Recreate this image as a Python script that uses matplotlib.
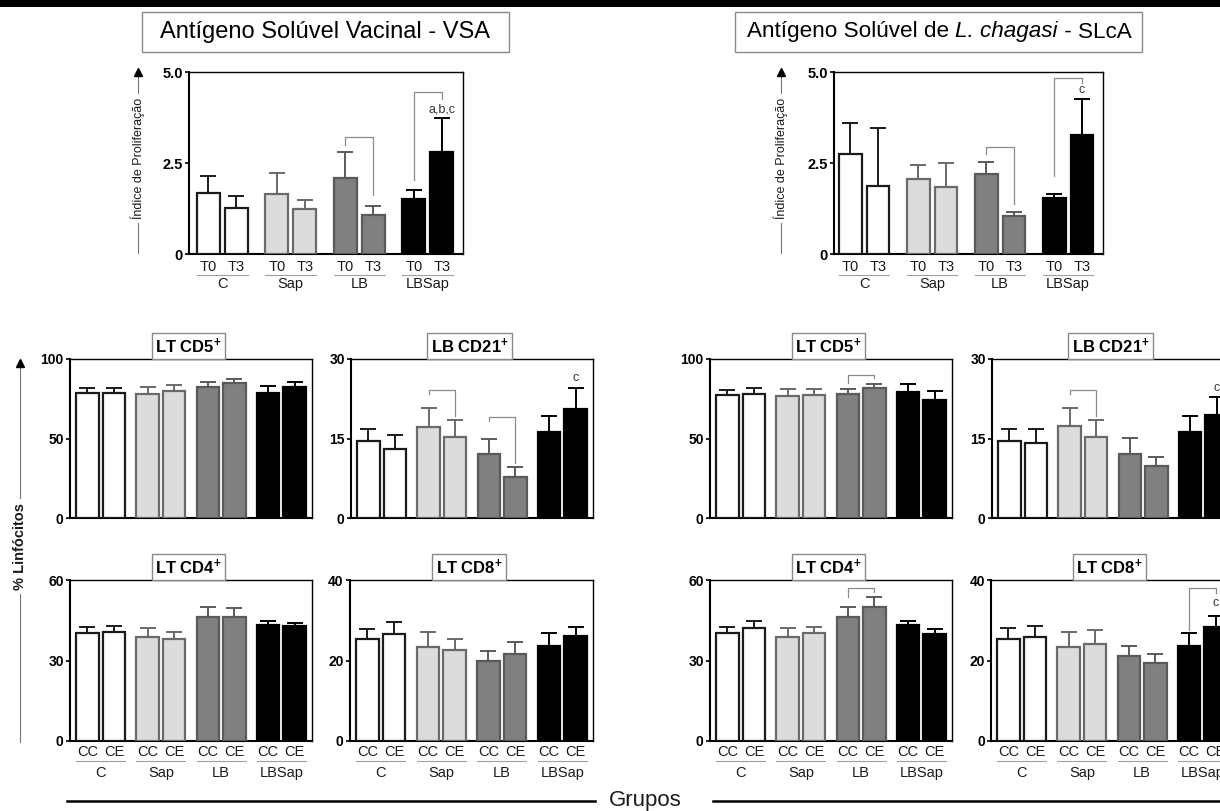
import matplotlib
matplotlib.use('Agg')
import matplotlib.pyplot as plt
from matplotlib.patches import Rectangle
from matplotlib.lines import Line2D
from matplotlib.transforms import blended_transform_factory

plt.rcParams['font.family'] = ['Liberation Sans', 'DejaVu Sans']
plt.rcParams['mathtext.fontset'] = 'custom'
plt.rcParams['mathtext.rm'] = 'Liberation Sans'
plt.rcParams['mathtext.it'] = 'Liberation Sans:italic'
plt.rcParams['mathtext.bf'] = 'Liberation Sans:bold'

groups = ['C', 'Sap', 'LB', 'LBSap']
time_labels = ['T0', 'T3']
culture_labels = ['CC', 'CE']

# proliferation index, order: C T0, C T3, Sap T0, Sap T3, LB T0, LB T3, LBSap T0, LBSap T3
vsa_mean = [1.68, 1.27, 1.64, 1.25, 2.09, 1.07, 1.50, 2.80]
vsa_err = [0.47, 0.33, 0.58, 0.22, 0.72, 0.26, 0.27, 0.94]
slca_mean = [2.74, 1.88, 2.05, 1.85, 2.21, 1.05, 1.53, 3.26]
slca_err = [0.85, 1.57, 0.40, 0.64, 0.33, 0.10, 0.13, 1.01]

# % lymphocytes, order: C CC, C CE, Sap CC, Sap CE, LB CC, LB CE, LBSap CC, LBSap CE
vsa_cd5_mean = [78.9, 78.9, 77.9, 79.6, 82.1, 84.6, 78.9, 82.5]
vsa_cd5_err = [3.0, 3.0, 4.6, 3.8, 3.6, 3.0, 4.0, 2.8]
vsa_cd21_mean = [14.6, 13.1, 17.2, 15.2, 12.0, 7.7, 16.3, 20.5]
vsa_cd21_err = [2.2, 2.5, 3.6, 3.2, 3.0, 1.9, 2.9, 4.1]
vsa_cd4_mean = [40.4, 40.6, 38.9, 38.0, 46.3, 46.1, 43.2, 43.0]
vsa_cd4_err = [2.0, 2.4, 3.1, 2.7, 3.6, 3.5, 1.5, 1.1]
vsa_cd8_mean = [25.3, 26.7, 23.4, 22.5, 19.9, 21.7, 23.7, 26.1]
vsa_cd8_err = [2.6, 2.8, 3.7, 2.9, 2.4, 2.9, 3.1, 2.2]

slca_cd5_mean = [77.5, 78.0, 76.9, 77.3, 78.2, 81.7, 79.4, 74.4]
slca_cd5_err = [3.2, 3.7, 4.2, 3.8, 3.1, 2.5, 4.8, 5.6]
slca_cd21_mean = [14.6, 14.1, 17.3, 15.2, 12.0, 9.8, 16.3, 19.4]
slca_cd21_err = [2.2, 2.6, 3.5, 3.2, 3.1, 1.8, 2.9, 3.4]
slca_cd4_mean = [40.4, 42.1, 38.6, 40.1, 46.3, 50.1, 43.2, 39.8]
slca_cd4_err = [2.0, 2.5, 3.4, 2.5, 3.6, 3.6, 1.5, 2.1]
slca_cd8_mean = [25.3, 25.8, 23.4, 24.1, 21.2, 19.5, 23.7, 28.4]
slca_cd8_err = [2.7, 2.7, 3.7, 3.6, 2.3, 2.1, 3.1, 2.6]

# brackets: (group, y of top line, y end left, y end right)
vsa_brackets = [(2, 3.22, 2.99, 1.62), (3, 4.45, 2.03, 4.27)]
slca_brackets = [(2, 2.94, 2.74, 1.37), (3, 4.84, 2.14, 4.70)]
vsa_cd21_brackets = [(1, 24.2, 23.4, 19.3), (2, 19.0, 18.3, 10.4)]
slca_cd5_brackets = [(2, 90.0, 84.8, 87.9)]
slca_cd21_brackets = [(1, 24.2, 23.4, 19.3)]
slca_cd4_brackets = [(2, 56.9, 53.8, 55.7)]
slca_cd8_brackets = [(3, 38.1, 27.6, 36.7)]

# significance letters: (bar index, y, text)
vsa_notes = [(7, 3.97, 'a,b,c')]
slca_notes = [(7, 4.50, 'c')]
vsa_cd21_notes = [(7, 26.4, 'c')]
slca_cd21_notes = [(7, 24.5, 'c')]
slca_cd8_notes = [(7, 34.2, 'c')]

fills = ['white', '#dcdcdc', '#808080', 'black']
edges = ['#1a1a1a', '#6a6a6a', '#5a5a5a', 'black']

W, H = 1220, 811
fig = plt.figure(figsize=(12.2, 8.11), dpi=100)


def fy(y):
    return 1 - y / H


def axes_px(x0, y0, x1, y1):
    return fig.add_axes([x0 / W, 1 - y1 / H, (x1 - x0) / W, (y1 - y0) / H])


def bar_panel(ax, mean, err, ymax, ticks, ticklabels, gstep, bstep, pad, tfs,
              brackets=(), notes=()):
    xs = []
    for i, (m, e) in enumerate(zip(mean, err)):
        g, j = divmod(i, 2)
        x = g * gstep + j * bstep + 0.5
        xs.append(x)
        ax.bar(x, m, width=1.0, color=fills[g], edgecolor=edges[g],
               linewidth=1.6, zorder=3)
        ax.errorbar(x, m, yerr=[[0], [e]], fmt='none', ecolor=edges[g],
                    elinewidth=1.4, capsize=5.5, capthick=1.4, zorder=2)
    for g, yt, yl, yr in brackets:
        xl, xr = xs[2 * g], xs[2 * g + 1]
        ax.plot([xl, xl, xr, xr], [yl, yt, yt, yr], color='#8c8c8c', lw=0.9, zorder=1)
    for i, y, t in notes:
        ax.text(xs[i], y, t, ha='center', va='center', fontsize=9, color='#333333')
    ax.set_xlim(-pad[0], 3 * gstep + bstep + 1 + pad[1])
    ax.set_ylim(0, ymax)
    ax.set_xticks([])
    ax.set_yticks(ticks)
    ax.set_yticklabels(ticklabels, fontweight='bold', fontsize=tfs)
    ax.tick_params(axis='y', length=3, width=1.2, pad=1.5)
    for s in ['top', 'right']:
        ax.spines[s].set_linewidth(1.0)
    for s in ['left', 'bottom']:
        ax.spines[s].set_linewidth(1.5)
    return xs


def x_labels(ax, xs, sub, h_px, off_sub, off_line, off_grp):
    tr = blended_transform_factory(ax.transData, ax.transAxes)
    for i, x in enumerate(xs):
        ax.text(x, -off_sub / h_px, sub[i % 2], transform=tr, ha='center',
                va='center', fontsize=10.5, color='#1a1a1a')
    for g in range(4):
        x0, x1 = xs[2 * g] - 0.5, xs[2 * g + 1] + 0.5
        ax.plot([x0, x1], [-off_line / h_px] * 2, transform=tr, color='#a0a0a0',
                lw=0.8, clip_on=False)
        ax.text((x0 + x1) / 2, -off_grp / h_px, groups[g], transform=tr,
                ha='center', va='center', fontsize=10.5, color='#1a1a1a')


def panel_title(ax, text):
    ax.annotate(text, xy=(0.49, 1.0), xycoords='axes fraction',
                xytext=(0, 13 * 0.72), textcoords='offset points',
                ha='center', va='center', fontsize=12, fontweight='bold',
                bbox=dict(boxstyle='square,pad=0.2', fc='white', ec='#8a8a8a', lw=1))


def arrow_label(x, y_head, y_up_end, y_text, y_low_start, y_low_end, text, fs, weight):
    fig.add_artist(Line2D([x / W] * 2, [fy(y_head), fy(y_up_end)], color='#777777', lw=0.8))
    fig.add_artist(Line2D([x / W] * 2, [fy(y_low_start), fy(y_low_end)], color='#777777', lw=0.8))
    fig.add_artist(Line2D([x / W], [fy(y_head)], marker='^', ms=6, color='black', lw=0))
    fig.text(x / W, fy(y_text), text, rotation=90, ha='center', va='center',
             fontsize=fs, fontweight=weight, color='#1a1a1a')


def mixed_title(cx, cy, pieces, fs):
    # pieces: list of (text, style); laid out left to right and centred on cx
    renderer = fig.canvas.get_renderer()
    arts = []
    for txt, style in pieces:
        arts.append(fig.text(0, fy(cy), txt, ha='left', va='center', fontsize=fs,
                             style=style))
    widths = [a.get_window_extent(renderer).width for a in arts]
    x = cx - sum(widths) / 2
    for a, w in zip(arts, widths):
        a.set_x(x / W)
        x += w


# black band at top
fig.add_artist(Rectangle((0, fy(7)), 1, 7 / H, transform=fig.transFigure,
                         color='black', lw=0))

# top titles
fig.add_artist(Rectangle((142 / W, fy(52)), (509 - 142) / W, 40 / H,
                         transform=fig.transFigure, fill=False, ec='#8a8a8a', lw=1))
fig.text(325.5 / W, fy(32), 'Antígeno Solúvel Vacinal - VSA', ha='center',
         va='center', fontsize=17)
fig.add_artist(Rectangle((735 / W, fy(52)), (1142 - 735) / W, 40 / H,
                         transform=fig.transFigure, fill=False, ec='#8a8a8a', lw=1))
mixed_title(939, 32, [('Antígeno Solúvel de ', 'normal'), ('L. chagasi', 'italic'),
                      (' - SLcA', 'normal')], 16.2)

# top panels
top_gstep, top_bstep = 3.0, 1.22
ax = axes_px(189, 72, 463, 254)
xs = bar_panel(ax, vsa_mean, vsa_err, 5.0, [0, 2.5, 5.0], ['0', '2.5', '5.0'],
               top_gstep, top_bstep, (0.35, 0.43), 10.5, vsa_brackets, vsa_notes)
x_labels(ax, xs, time_labels, 182, 13, 21, 30)

ax = axes_px(834, 72, 1103, 254)
xs = bar_panel(ax, slca_mean, slca_err, 5.0, [0, 2.5, 5.0], ['0', '2.5', '5.0'],
               top_gstep, top_bstep, (0.22, 0.43), 10.5, slca_brackets, slca_notes)
x_labels(ax, xs, time_labels, 182, 13, 21, 30)

arrow_label(138, 72, 93, 158, 223, 253, 'Índice de Proliferação', 9, 'normal')
arrow_label(781, 72, 93, 158, 223, 253, 'Índice de Proliferação', 9, 'normal')

# bottom panels
bot_gstep, bot_bstep = 2.67, 1.18
bot_pad = (0.27, 0.27)
bottom_panels = [
    ((70, 359, 312, 518), vsa_cd5_mean, vsa_cd5_err, 100, [0, 50, 100], r'LT CD5$^{\mathbf{+}}$', (), (), False),
    ((351, 359, 593, 518), vsa_cd21_mean, vsa_cd21_err, 30, [0, 15, 30], r'LB CD21$^{\mathbf{+}}$', vsa_cd21_brackets, vsa_cd21_notes, False),
    ((70, 580, 312, 741), vsa_cd4_mean, vsa_cd4_err, 60, [0, 30, 60], r'LT CD4$^{\mathbf{+}}$', (), (), True),
    ((350, 580, 593, 741), vsa_cd8_mean, vsa_cd8_err, 40, [0, 20, 40], r'LT CD8$^{\mathbf{+}}$', (), (), True),
    ((710, 359, 952, 518), slca_cd5_mean, slca_cd5_err, 100, [0, 50, 100], r'LT CD5$^{\mathbf{+}}$', slca_cd5_brackets, (), False),
    ((992, 359, 1234, 518), slca_cd21_mean, slca_cd21_err, 30, [0, 15, 30], r'LB CD21$^{\mathbf{+}}$', slca_cd21_brackets, slca_cd21_notes, False),
    ((710, 580, 952, 741), slca_cd4_mean, slca_cd4_err, 60, [0, 30, 60], r'LT CD4$^{\mathbf{+}}$', slca_cd4_brackets, (), True),
    ((991, 580, 1233, 741), slca_cd8_mean, slca_cd8_err, 40, [0, 20, 40], r'LT CD8$^{\mathbf{+}}$', slca_cd8_brackets, slca_cd8_notes, True),
]
for box, m, e, ymax, ticks, title, br, nt, lab in bottom_panels:
    ax = axes_px(*box)
    xs = bar_panel(ax, m, e, ymax, ticks, [str(t) for t in ticks],
                   bot_gstep, bot_bstep, bot_pad, 10, br, nt)
    panel_title(ax, title)
    if lab:
        x_labels(ax, xs, culture_labels, box[3] - box[1], 11, 20, 32)

arrow_label(20, 363, 498, 546, 594, 742, '% Linfócitos', 10.5, 'bold')

# Grupos axis line
fig.add_artist(Line2D([67 / W, 595 / W], [fy(801)] * 2, color='black', lw=1.8))
fig.add_artist(Line2D([713 / W, 1.0], [fy(801)] * 2, color='black', lw=1.8))
fig.text(645 / W, fy(806), 'Grupos', ha='center', va='baseline', fontsize=16,
         color='#1a1a1a')

fig.savefig('out.png', dpi=100)
